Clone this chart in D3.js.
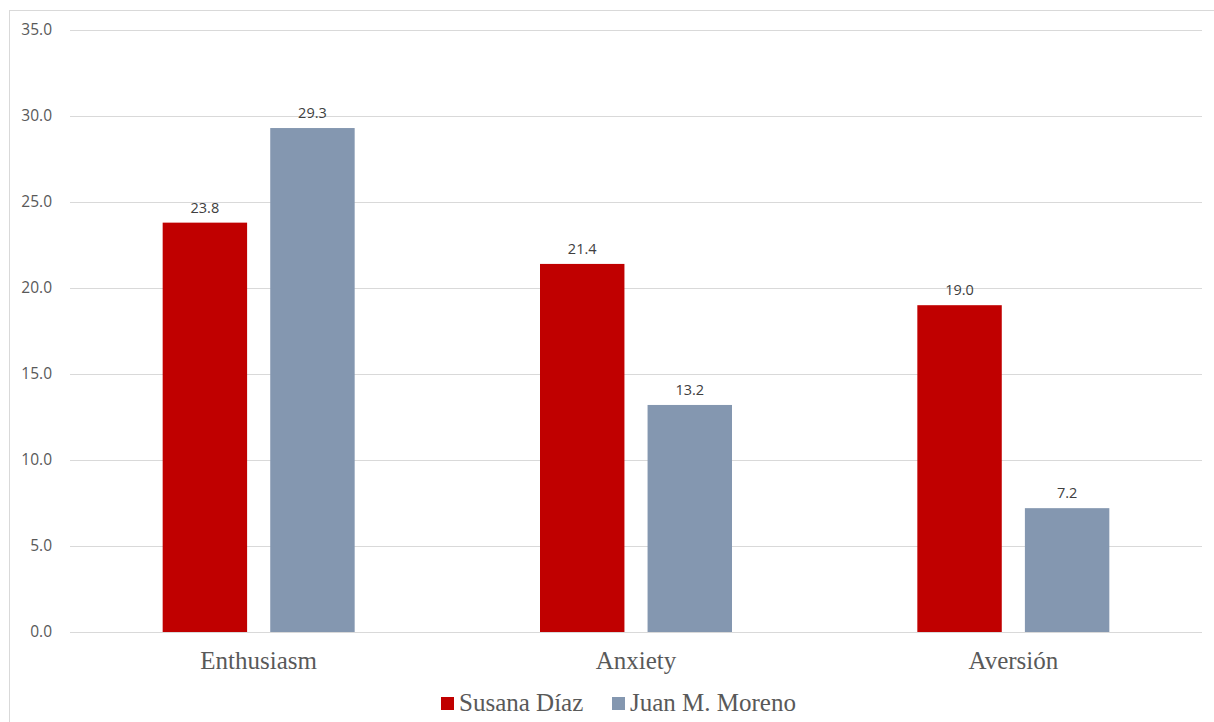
<!DOCTYPE html>
<html><head><meta charset="utf-8">
<script src="https://cdn.jsdelivr.net/npm/d3@7"></script>
<style>body{margin:0;background:#fff}svg{display:block}</style>
</head><body>
<script>
const categories = ["Enthusiasm", "Anxiety", "Aversión"];
const seriesNames = ["Susana Díaz", "Juan M. Moreno"];
const susanaDiaz = [23.8, 21.4, 19.0];
const juanMoreno = [29.3, 13.2, 7.2];
const yTicks = [0, 5, 10, 15, 20, 25, 30, 35];
const colors = ["#C00000", "#8497B0"];

(function () {
const W = 1214, H = 722;
const svg = d3.select("body").append("svg").attr("width", W).attr("height", H);
svg.append("rect").attr("x", 9.5).attr("y", 10.5).attr("width", 1220).attr("height", 730)
  .attr("fill", "#fff").attr("stroke", "#d9d9d9").attr("stroke-width", 1);

const mLeft = 70, mRight = 1202, mTop = 30, mBottom = 632;
const y = d3.scaleLinear().domain([0, 35]).range([mBottom, mTop]);
const x0 = d3.scaleBand().domain(categories).range([mLeft, mRight]).paddingInner(0).paddingOuter(0);
const x1 = d3.scaleBand().domain(seriesNames).range([x0.bandwidth()/2 - 96, x0.bandwidth()/2 + 96]).paddingInner(0.215).paddingOuter(0);

const yAxis = d3.axisLeft(y).tickValues(yTicks).tickSize(-(mRight-mLeft)).tickFormat(d3.format(".1f")).tickPadding(18);
const g = svg.append("g").attr("transform", `translate(${mLeft},0)`).call(yAxis);
g.select(".domain").remove();
g.selectAll(".tick line").attr("stroke", "#d9d9d9").attr("stroke-width", 1);
g.selectAll(".tick text").attr("fill", "#595959").style("font-family", "'Open Sans', 'Noto Sans', sans-serif").style("font-size", "15.5px");

const data = categories.map((c, i) => ({c, vals: [susanaDiaz[i], juanMoreno[i]]}));
const groups = svg.append("g").selectAll("g").data(data).join("g")
  .attr("transform", d => `translate(${x0(d.c)},0)`);
groups.selectAll("rect").data(d => d.vals.map((v, j) => ({v, s: seriesNames[j], j})))
  .join("rect")
  .attr("x", d => x1(d.s)).attr("width", x1.bandwidth())
  .attr("y", d => y(d.v)).attr("height", d => y(0) - y(d.v))
  .attr("fill", d => colors[d.j]);
groups.selectAll("text").data(d => d.vals.map((v, j) => ({v, s: seriesNames[j], j})))
  .join("text")
  .attr("x", d => x1(d.s) + x1.bandwidth()/2).attr("y", d => y(d.v) - 10)
  .attr("text-anchor", "middle").attr("fill", "#404040")
  .style("font-family", "'Open Sans', 'Noto Sans', sans-serif").style("font-size", "14.5px")
  .text(d => d3.format(".1f")(d.v));

svg.append("line").attr("x1", mLeft).attr("x2", mRight).attr("y1", y(0)+0.5).attr("y2", y(0)+0.5).attr("stroke", "#d9d9d9");

const xAxis = d3.axisBottom(x0).tickSize(0).tickPadding(19);
const gx = svg.append("g").attr("transform", `translate(0,${mBottom})`).call(xAxis);
gx.select(".domain").remove();
gx.selectAll(".tick text").attr("fill", "#595959").style("font-family", "'Liberation Serif', serif").style("font-size", "25px");

const legendX = [441, 612];
const lg = svg.append("g").selectAll("g").data(seriesNames).join("g")
  .attr("transform", (d, i) => `translate(${legendX[i]},0)`);
lg.append("rect").attr("x", 0).attr("y", 697).attr("width", 13).attr("height", 13).attr("fill", (d, i) => colors[i]);
lg.append("text").attr("x", 18).attr("y", 711).attr("fill", "#595959")
  .style("font-family", "'Liberation Serif', serif").style("font-size", "25px").text(d => d);
})();
</script>
</body></html>
